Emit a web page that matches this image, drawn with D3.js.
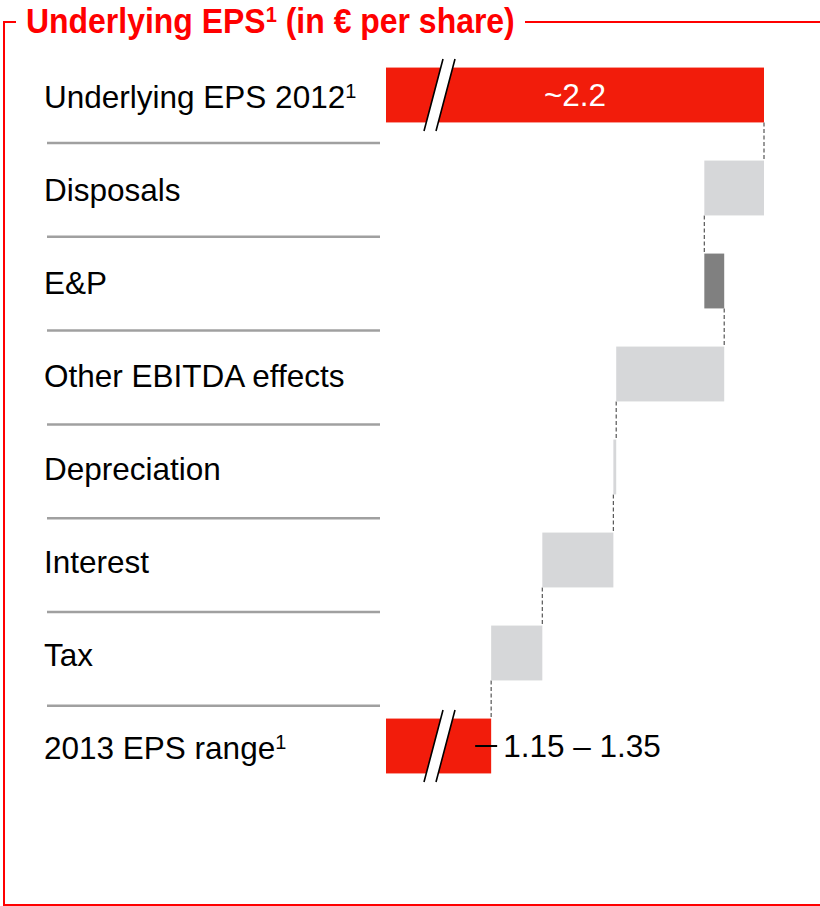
<!DOCTYPE html>
<html>
<head>
<meta charset="utf-8">
<script src="https://cdn.jsdelivr.net/npm/d3@7"></script>
<style>
  html, body { margin: 0; padding: 0; background: #fff; }
  svg { display: block; }
  text { font-family: "Liberation Sans", Arial, sans-serif; }
</style>
</head>
<body>
<svg id="chart" width="820" height="906"></svg>
<script>
// Bridge from underlying EPS 2012 to the 2013 EPS range (€ per share)
const categories = ["Underlying EPS 2012", "Disposals", "E&P", "Other EBITDA effects",
                    "Depreciation", "Interest", "Tax", "2013 EPS range"];
const footnoted = ["Underlying EPS 2012", "2013 EPS range"];
const startValue = 2.2;
const deltas = [-0.21, 0.07, -0.38, -0.01, -0.25, -0.18];
const startLabel = "~2.2";
const rangeLabel = "1.15 – 1.35";
const titleMain = "Underlying EPS";
const titleRest = " (in € per share)";

const RED = "#f21c0b", LIGHT = "#d6d7d9", DARK = "#808080";

const svg = d3.select("#chart");

// Build waterfall steps from the start value and the deltas
const steps = [];
let cum = startValue;
steps.push({ cat: categories[0], from: 0, to: startValue, kind: "total" });
deltas.forEach((d, i) => {
  steps.push({ cat: categories[i + 1], from: cum, to: cum + d, kind: d >= 0 ? "up" : "down" });
  cum += d;
});
steps.push({ cat: categories[categories.length - 1], from: 0, to: cum, kind: "total" });

const x = d3.scaleLinear().domain([0.87, 2.2]).range([386, 764]);
// bars
const y = d3.scaleBand().domain(categories).range([48.5, 792.5])
  .paddingInner(0.41).paddingOuter(0.205);
// separator rows
const row = d3.scaleBand().domain(categories).range([49.2, 799.6]);
const bw = y.bandwidth();

// Frame around the panel
const frame = svg.append("g").attr("stroke", "#ff0000").attr("stroke-width", 2).attr("fill", "none");
frame.append("path").attr("d", "M16,22 H4 V905 H820");
frame.append("line").attr("x1", 525).attr("x2", 820).attr("y1", 22).attr("y2", 22);

// Title
const title = svg.append("text").attr("x", 0).attr("y", 0)
  .attr("fill", "#ff0000").attr("font-weight", "bold").attr("font-size", 35);
title.append("tspan").text(titleMain);
title.append("tspan").attr("font-size", 22).attr("dy", -11).text("1");
title.append("tspan").attr("dy", 11).text(titleRest);
const tw = title.node().getComputedTextLength();
title.attr("transform", `translate(26,33) scale(${489 / tw},1)`);

// Row separators
svg.append("g").selectAll("line")
  .data(categories.slice(1))
  .join("line")
  .attr("x1", 47).attr("x2", 380)
  .attr("y1", d => row(d)).attr("y2", d => row(d))
  .attr("stroke", "#a0a0a0").attr("stroke-width", 2.5);

// Category labels
const labels = svg.append("g").selectAll("text")
  .data(categories)
  .join("text")
  .attr("x", 44)
  .attr("y", d => y(d) + bw / 2 + 12.5)
  .attr("font-size", 31.5)
  .attr("fill", "#000");
labels.append("tspan").text(d => d);
labels.filter(d => footnoted.includes(d))
  .append("tspan").attr("font-size", 20).attr("dy", -10).text("1");

// Connectors between consecutive bars
const conn = [];
for (let i = 0; i < steps.length - 1; i++) {
  conn.push({ v: steps[i].to, y1: y(steps[i].cat) + bw, y2: y(steps[i + 1].cat) });
}
svg.append("g").selectAll("line")
  .data(conn)
  .join("line")
  .attr("x1", d => x(d.v)).attr("x2", d => x(d.v))
  .attr("y1", d => d.y1).attr("y2", d => d.y2)
  .attr("stroke", "#555").attr("stroke-width", 1.2).attr("stroke-dasharray", "4,2.5");

// Bars
svg.append("g").selectAll("rect")
  .data(steps)
  .join("rect")
  .attr("x", d => d.kind === "total" ? x.range()[0] : x(Math.min(d.from, d.to)))
  .attr("width", d => d.kind === "total" ? x(d.to) - x.range()[0] : Math.abs(x(d.to) - x(d.from)))
  .attr("y", d => y(d.cat))
  .attr("height", bw)
  .attr("fill", d => d.kind === "total" ? RED : d.kind === "up" ? DARK : LIGHT);

// Axis-break marks on the truncated total bars
const totals = steps.filter(d => d.kind === "total");
const brk = svg.append("g").selectAll("g")
  .data(totals)
  .join("g")
  .attr("transform", d => `translate(${x.range()[0] + 53.5},${y(d.cat) + bw / 2})`);
brk.append("path")
  .attr("d", "M3.5,-36 L15.5,-36 L-3.5,36 L-15.5,36 Z")
  .attr("fill", "#fff");
brk.append("path")
  .attr("d", "M3.5,-36 L-15.5,36 M15.5,-36 L-3.5,36")
  .attr("stroke", "#000").attr("stroke-width", 1.6).attr("fill", "none");

// Value labels
const first = steps[0], last = steps[steps.length - 1];
svg.append("text")
  .attr("x", (x.range()[0] + x(first.to)) / 2)
  .attr("y", y(first.cat) + bw / 2 + 11)
  .attr("text-anchor", "middle").attr("font-size", 31.5).attr("fill", "#fff")
  .text(startLabel);
const ly = y(last.cat) + bw / 2;
svg.append("line")
  .attr("x1", x(last.to) - 16).attr("x2", x(last.to) + 6)
  .attr("y1", ly).attr("y2", ly)
  .attr("stroke", "#000").attr("stroke-width", 2);
svg.append("text")
  .attr("x", x(last.to) + 12)
  .attr("y", ly + 11)
  .attr("font-size", 31.5).attr("fill", "#000")
  .text(rangeLabel);
</script>
</body>
</html>
